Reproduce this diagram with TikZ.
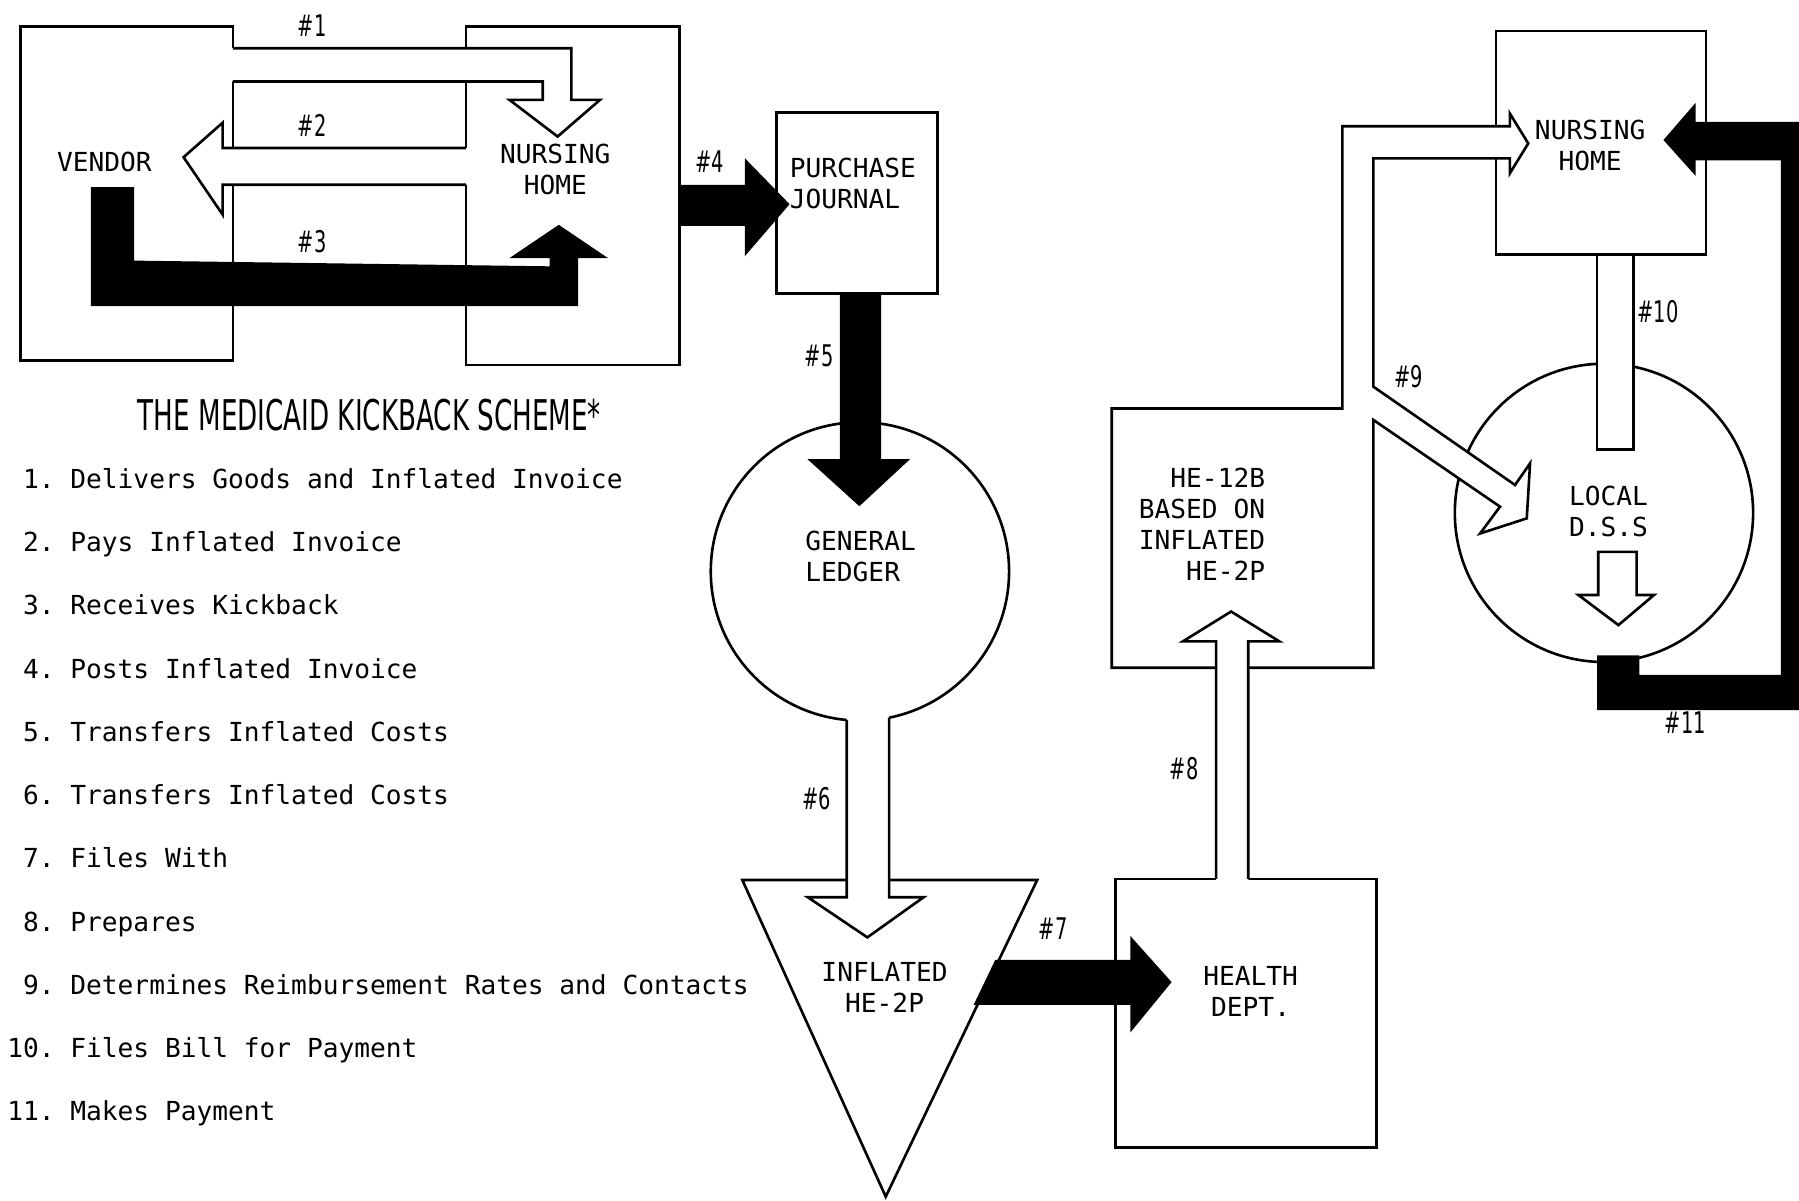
\documentclass[tikz,border=0pt]{standalone}
\usepackage{fontspec}
\usepackage{graphicx}
\newfontfamily\typefont{DejaVu Sans Mono}
\newfontfamily\tagfont[FakeStretch=0.65]{DejaVu Sans}
\newfontfamily\headfont{DejaVu Sans}
\tikzstyle{box}        = [draw=black, line width=1.3pt]
\tikzstyle{disc}       = [draw=black, fill=white, line width=1.3pt]
\tikzstyle{whitefill}  = [fill=white]
\tikzstyle{whiteline}  = [draw=black, line width=1.3pt, line join=miter]
\tikzstyle{whitearrow} = [draw=black, fill=white, line width=1.3pt, line join=miter]
\tikzstyle{blackarrow} = [draw=black, fill=black, line width=1pt, line join=miter]
\tikzstyle{typed}      = [font=\typefont\fontsize{13}{15.4}\selectfont, inner sep=0pt]
\tikzstyle{numtag}     = [font=\tagfont\fontsize{14.8}{16}\selectfont, inner sep=0pt]

\begin{document}
\begin{tikzpicture}[x=0.02cm, y=-0.02cm]
    \useasboundingbox[fill=white] (0,0) rectangle (1568,1046);

    % Vendor and nursing home (left)
    \draw[box] (18,23) rectangle (203,314);
    \draw[box] (406,23) rectangle (592,318);

    % #1 goods and invoice
    \fill[whitefill] (201,42) -- (498,42) -- (498,87) -- (523,87) -- (486,119) -- (444,87) -- (473,87) -- (473,71) -- (201,71) -- cycle;
    \draw[whiteline] (203,42) -- (498,42) -- (498,87) -- (523,87) -- (486,119) -- (444,87) -- (473,87) -- (473,71) -- (203,71);
    % #2 payment
    \fill[whitefill] (408,129) -- (194,129) -- (194,107) -- (160,137) -- (194,187) -- (194,161) -- (408,161) -- cycle;
    \draw[whiteline] (406,129) -- (194,129) -- (194,107) -- (160,137) -- (194,187) -- (194,161) -- (406,161);
    % #3 kickback
    \draw[blackarrow] (80,164) -- (116,164) -- (116,228) -- (480,233) -- (480,224) -- (447,224) -- (487,197)
        -- (527,224) -- (503,224) -- (503,266) -- (80,266) -- cycle;

    % Purchase journal
    \draw[blackarrow] (592,162) -- (650,162) -- (650,140) -- (687,178) -- (650,221) -- (650,196) -- (592,196) -- cycle;
    \draw[box] (677,98) rectangle (817,256);

    % General ledger
    \draw[disc] (749.5,498) circle [radius=130];
    \draw[blackarrow] (733,256) -- (767,256) -- (767,401) -- (791,401) -- (749,440) -- (706,401) -- (733,401) -- cycle;

    % Inflated HE-2P
    \draw[box, line join=miter] (647,767) -- (904,767) -- (772,1043) -- cycle;
    \fill[whitefill] (738,600) -- (775,600) -- (775,782) -- (805,782) -- (756,817) -- (704,782) -- (738,782) -- cycle;
    \draw[whiteline] (738,627.5) -- (738,782) -- (704,782) -- (756,817) -- (805,782) -- (775,782) -- (775,625.5);

    % Health dept.
    \draw[box] (972,766) rectangle (1200,1000);
    \draw[blackarrow] (868,837.5) -- (986,837.5) -- (986,818) -- (1020,856) -- (986,897.5) -- (986,875) -- (850,875) -- cycle;

    % Nursing home and local D.S.S (right)
    \draw[box] (1304,27) rectangle (1487,222);
    \draw[disc] (1398,447) circle [radius=130];

    % HE-12B with #9
    \draw[whitearrow] (1197,366) -- (1197,582) -- (969,582) -- (969,356) -- (1170,356) -- (1170,110) -- (1316,110)
        -- (1316,99) -- (1332,125) -- (1316,151) -- (1316,138) -- (1197,138) -- (1197,337)
        -- (1320.5,422.7) -- (1333.6,403.8) -- (1330.7,451.8) -- (1290,465) -- (1307.4,441.6) -- cycle;

    % #8
    \fill[whitefill] (1060,768) -- (1060,559) -- (1031,559) -- (1073,533) -- (1115,559) -- (1088,559) -- (1088,768) -- cycle;
    \draw[whiteline] (1060,766) -- (1060,559) -- (1031,559) -- (1073,533) -- (1115,559) -- (1088,559) -- (1088,766);

    % #10 and payment out
    \fill[whitefill] (1392,224) rectangle (1424,392);
    \draw[whiteline] (1392,223) -- (1392,392) -- (1424,392) -- (1424,223);
    \draw[whitearrow] (1393,481) -- (1426.5,481) -- (1426.5,518.6) -- (1441.6,518.6) -- (1410.6,544.8)
        -- (1375.7,518.6) -- (1393,518.6) -- cycle;

    % #11
    \draw[blackarrow] (1393,572) -- (1428,572) -- (1428,589) -- (1553,589) -- (1553,139) -- (1477,139) -- (1477,151)
        -- (1451,122) -- (1477,92) -- (1477,107) -- (1568,107) -- (1568,618) -- (1393,618) -- cycle;

    % Box labels
    \node (vendor) [typed] at (91,141) {VENDOR};
    \node (nhleft) [typed, align=center] at (484,148) {NURSING\\HOME};
    \node (journal) [typed, align=left, anchor=west] at (688,159.5) {PURCHASE\\JOURNAL};
    \node (ledger) [typed, align=left, anchor=west] at (701.6,485) {GENERAL\\LEDGER};
    \node (hetwop) [typed, align=center] at (771,861) {INFLATED\\HE-2P};
    \node (health) [typed, align=center] at (1090,864) {HEALTH\\DEPT.};
    \node (hetwelve) [typed, align=right, anchor=east] at (1103,457) {HE-12B\\BASED ON\\INFLATED\\HE-2P};
    \node (nhright) [typed, align=center] at (1386,127) {NURSING\\HOME};
    \node (dss) [typed, align=center] at (1402,445.5) {LOCAL\\D.S.S};

    % Step numbers
    \node (t1) [numtag] at (272,22) {\#1};
    \node (t2) [numtag] at (272,109) {\#2};
    \node (t3) [numtag] at (272,211) {\#3};
    \node (t4) [numtag] at (618.5,141) {\#4};
    \node (t5) [numtag] at (714,310) {\#5};
    \node (t6) [numtag] at (712,696.5) {\#6};
    \node (t7) [numtag] at (918,809) {\#7};
    \node (t8) [numtag] at (1032,669.5) {\#8};
    \node (t9) [numtag] at (1227.5,328) {\#9};
    \node (t10) [numtag] at (1445,272) {\#10};
    \node (t11) [numtag] at (1469,630) {\#11};

    % Title and legend
    \node (title) [inner sep=0pt] at (322,361.5) {\resizebox{8.07cm}{0.548cm}{\headfont THE MEDICAID KICKBACK SCHEME*}};
    \foreach \txt [count=\i] in {Delivers Goods and Inflated Invoice, Pays Inflated Invoice, Receives Kickback,
        Posts Inflated Invoice, Transfers Inflated Costs, Transfers Inflated Costs, Files With, Prepares,
        Determines Reimbursement Rates and Contacts, Files Bill for Payment, Makes Payment}
        \node (item\i) [typed, anchor=base west] at (6,{425.8+55.1*(\i-1)}) {\ifnum\i<10 \phantom{0}\fi\i.\ \txt};
\end{tikzpicture}
\end{document}
